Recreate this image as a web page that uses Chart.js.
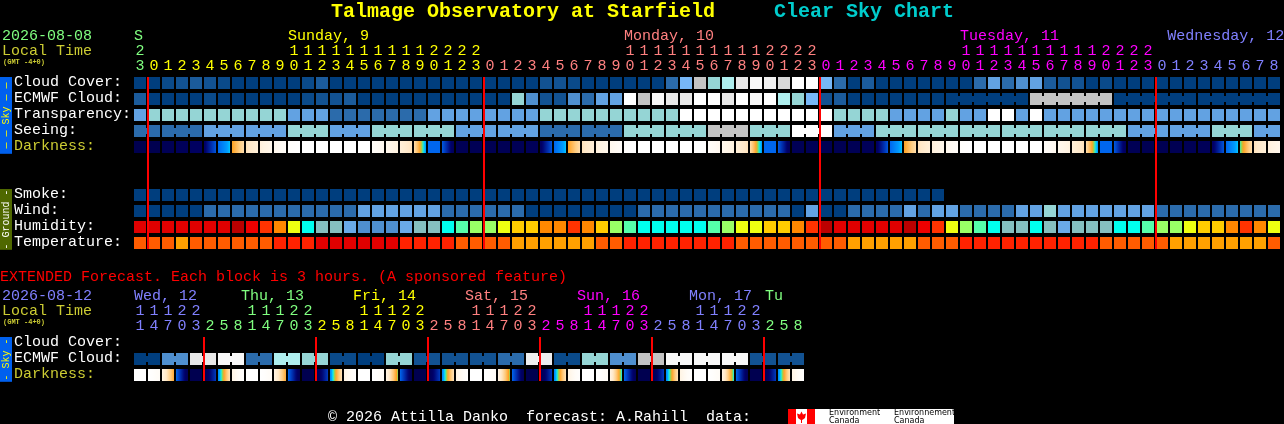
<!DOCTYPE html>
<html>
<head>
<meta charset="utf-8">
<title>Talmage Observatory at Starfield Clear Sky Chart</title>
<style>
    html, body { margin: 0; background: #000; overflow: hidden; }
    canvas { position: absolute; left: 0; }
    #sky { top: 0; }
    #extended { top: 260px; }
</style>
<script src="https://cdn.jsdelivr.net/npm/chart.js@4"></script>
</head>
<body>
<canvas id="sky" width="1284" height="300"></canvas>
<canvas id="extended" width="1284" height="164"></canvas>
<script>
// hourly forecast, one entry per column
const hours = [23,
    0,1,2,3,4,5,6,7,8,9,10,11,12,13,14,15,16,17,18,19,20,21,22,23,
    0,1,2,3,4,5,6,7,8,9,10,11,12,13,14,15,16,17,18,19,20,21,22,23,
    0,1,2,3,4,5,6,7,8,9,10,11,12,13,14,15,16,17,18,19,20,21,22,23,
    0,1,2,3,4,5,6,7,8];
const cloudCover = [
    0,0,5,10,15,10,5,0,0,0,
    0,0,5,15,0,0,0,0,0,0,
    0,0,0,0,0,0,0,0,0,10,
    10,5,0,0,0,0,0,0,20,45,
    70,50,60,80,95,90,75,100,100,45,
    20,0,15,0,0,0,0,0,0,0,
    20,40,20,30,40,15,10,10,0,5,
    0,0,0,0,0,0,0,0,0,0,0,0];
const ecmwfCloud = [
    15,0,0,0,0,5,0,0,0,0,
    0,0,5,10,10,15,0,0,0,0,
    0,0,0,0,0,0,0,50,30,10,
    10,30,20,40,40,100,70,95,80,80,
    100,100,80,100,95,100,60,50,45,10,
    15,0,0,0,0,0,0,0,0,0,
    0,0,0,0,70,70,70,70,70,70,
    0,0,0,0,0,0,0,0,0,0,0,0];
const transparency = [
    2,3,3,3,3,3,3,3,3,3,
    3,2,2,2,1,1,1,1,1,1,
    1,2,2,2,2,2,2,2,2,3,
    3,3,3,3,3,3,3,3,3,5,
    5,5,5,5,5,5,5,5,5,5,
    3,3,3,3,2,2,2,2,3,2,
    2,5,5,2,5,2,2,2,2,2,
    2,2,2,2,2,2,2,2,2,2,2,2];
const seeing = [
    1,1,1,1,1,2,2,2,2,2,
    2,3,3,3,2,2,2,3,3,3,
    3,3,3,2,2,2,2,2,2,1,
    1,1,1,1,1,3,3,3,3,3,
    3,4,4,4,3,3,3,5,5,5,
    2,2,2,3,3,3,3,3,3,3,
    3,3,3,3,3,3,3,3,3,3,
    3,2,2,2,2,2,2,3,3,3,2,2];
const darkFrom = [
    0,0,.02,.04,.06,.08,.30,.50,.68,.77,
    .85,.96,1,1,1,1,1,.92,.85,.76,
    .66,.30,.28,.02,.02,.01,.02,.02,.03,.06,
    .30,.50,.68,.77,.85,.96,1,1,1,1,
    1,.93,.85,.76,.66,.30,.28,.02,.02,.01,
    .01,.02,.03,.06,.30,.50,.68,.77,.85,.96,
    1,1,1,1,1,.93,.85,.76,.66,.30,
    .28,.02,.01,.01,.01,.02,.03,.06,.30,.44,.68,.77];
const darkTo = [
    0,0,.02,.04,.06,.27,.40,.66,.76,.84,
    .92,1,1,1,1,1,1,.86,.78,.68,
    .36,.30,.04,.02,.02,.01,.02,.02,.03,.27,
    .40,.66,.76,.84,.92,1,1,1,1,1,
    1,.86,.78,.68,.36,.30,.04,.02,.02,.01,
    .01,.02,.03,.27,.40,.66,.76,.84,.92,1,
    1,1,1,1,1,.86,.78,.68,.36,.30,
    .04,.02,.01,.01,.01,.02,.03,.27,.40,.66,.76,.84];
const smoke = [
    0,0,0,0,0,0,0,0,0,0,0,0,0,0,0,0,0,0,0,0,
    0,0,0,0,0,0,0,0,0,0,0,0,0,0,0,0,0,0,0,0,
    0,0,0,0,0,0,0,0,0,0,0,0,0,0,0,0,0,0];
const wind = [
    0,0,0,0,0,1,1,1,1,1,
    1,1,1,1,1,1,2,2,2,2,
    2,2,1,1,1,1,1,1,0,0,
    0,0,0,0,0,0,1,1,1,1,
    1,1,1,1,1,1,1,0,2,0,
    0,1,1,1,1,2,1,2,2,1,
    1,1,1,2,2,3,2,2,2,2,
    2,2,2,1,1,1,1,1,1,1,1,1];
const humidity = [
    85,85,85,85,85,85,85,95,80,75,
    70,60,45,40,40,35,30,30,30,35,
    40,40,45,50,55,55,60,65,65,70,
    70,75,70,65,55,50,45,45,45,45,
    45,50,55,60,60,65,65,70,75,95,
    85,85,85,85,85,95,80,75,60,55,
    50,45,40,40,45,40,35,40,40,40,
    45,45,50,55,55,60,65,65,70,75,70,60];
const temperature = [
    25,25,25,22,25,25,25,25,25,25,
    28,28,28,31,31,31,31,31,31,28,
    28,28,28,25,25,25,25,22,22,22,
    22,22,22,25,25,28,28,28,28,28,
    28,28,28,25,25,25,25,25,25,25,
    25,22,22,22,22,22,25,25,25,28,
    28,28,28,28,28,28,28,28,28,25,
    25,25,25,25,22,22,22,22,22,22,22,25];
// how many columns each joined block covers
const seeingBlocks = [2,3,3,3,3,3,3,3,3,3,3,3,3,3,3,3,3,3,3,3,3,3,3,3,3,3,3,2];
const ecmwfBlocks = [1,1,1,1,1,1,1,1,1,1,1,1,1,1,1,1,1,1,1,1,1,1,1,1,1,1,1,1,1,
    1,1,1,1,1,1,1,1,1,1,1,1,1,1,1,1,1,1,1,1,1,1,1,1,1,1,1,1,1,6,6,6,6];

// extended forecast, 3 hour blocks
const extHours = [11,14,17,20,23,
    2,5,8,11,14,17,20,23,
    2,5,8,11,14,17,20,23,
    2,5,8,11,14,17,20,23,
    2,5,8,11,14,17,20,23,
    2,5,8,11,14,17,20,23,
    2,5,8];
const extEcmwf = [0,30,80,95,20,60,50,5,0,50,10,10,10,20,85,5,50,30,70,95,95,95,10,10];
const extDarkFrom = [
    1,1,.80,.30,0,0,.34,.80,
    1,1,.80,.30,0,0,.34,.80,
    1,1,.80,.30,0,0,.34,.80,
    1,1,.80,.30,0,0,.34,.80,
    1,1,.80,.30,0,0,.34,.80,
    1,1,.80,.30,0,0,.34,.80];
const extDarkTo = [
    1,.90,.52,.02,0,.22,.68,.98,
    1,.90,.52,.02,0,.22,.68,.98,
    1,.90,.46,.02,0,.22,.68,.98,
    1,.90,.46,.02,0,.22,.68,.98,
    1,.90,.42,.02,0,.22,.68,.98,
    1,.90,.42,.02,0,.22,.68,.98];

const midnights = [1,25,49,73];
const extMidnights = [5,13,21,29,37,45];
const dayNames = ["S","Sunday, 9","Monday, 10","Tuesday, 11","Wednesday, 12"];
const dayCols = [0,11,35,59,73.8];
const extDayNames = ["Wed, 12","Thu, 13","Fri, 14","Sat, 15","Sun, 16","Mon, 17","Tu"];
const extDayCols = [0,7.64,15.64,23.64,31.64,39.64,45.07];

const GREEN = "#80ff80", YELLOW = "#ffff00", SALMON = "#ff8080", MAGENTA = "#ff00ff", PERI = "#8080ff";
const OLIVE_TEXT = "#cccc33";
const dayColors = [GREEN, YELLOW, SALMON, MAGENTA, PERI];
const extDayColors = [PERI, GREEN, YELLOW, SALMON, MAGENTA, PERI, GREEN];

const cloudColors = {0:"#003e7e",5:"#0a4a8a",10:"#125292",15:"#1b5b9b",20:"#2b6bab",30:"#4f8fcf",40:"#62a2e2",45:"#77b7f7",
    50:"#95d5d5",60:"#aeeeee",70:"#c3c3c3",75:"#d8d8d8",80:"#e8e8e8",85:"#eeeeee",90:"#f0f0f0",95:"#f8f8f8",100:"#ffffff"};
const ratingColors = ["#003e7e","#2b6bab","#62a2e2","#95d5d5","#c3c3c3","#ffffff"];
const humidityColors = {30:"#4f8fcf",35:"#6aaae8",40:"#85bfbf",45:"#00ffee",50:"#55ffaa",55:"#99ff66",60:"#eeff11",
    65:"#ffcc00",70:"#ff8800",75:"#ff3300",80:"#ee0000",85:"#e00000",95:"#bb0000"};
const tempColors = {22:"#ffa000",25:"#ff5c00",28:"#ff2200",31:"#e00000"};
const darkScale = [[0,[0,0,80]],[.1,[0,0,106]],[.2,[0,48,176]],[.3,[0,102,238]],[.38,[0,160,255]],[.42,[0,240,255]],[.46,[128,224,96]],
    [.5,[255,160,32]],[.6,[255,204,128]],[.7,[255,232,200]],[.8,[255,244,228]],[.9,[255,251,246]],[1,[255,255,255]]];

const MONO = "'Liberation Mono', monospace";

function darkColor(v) {
    let i = 1;
    while (i < darkScale.length - 1 && v > darkScale[i][0]) i++;
    const [a, ca] = darkScale[i - 1], [b, cb] = darkScale[i];
    const t = Math.max(0, Math.min(1, (v - a) / (b - a)));
    return "rgb(" + ca.map((c, k) => Math.round(c + (cb[k] - c) * t)).join(",") + ")";
}

// darkness cells fade from left to right
function darkPaint(from, to) {
    return (i, chart) => {
        const mid = chart.scales.x.getPixelForValue(i);
        // scale has no size yet on the very first pass
        if (!Number.isFinite(mid)) return "#000";
        const g = chart.ctx.createLinearGradient(mid - 6, 0, mid + 6, 0);
        for (let s = 0; s <= 8; s++) g.addColorStop(s / 8, darkColor(from[i] + (to[i] - from[i]) * s / 8));
        return g;
    };
}

function runsOf(blocks) {
    let first = 0;
    return blocks.map((n) => { const r = [first, first + n - 1]; first += n; return r; });
}

function gridChart(id, cols, rows, cfg) {
    const rowSpan = 0.75;
    const extras = {
        id: "extras",
        afterDatasetsDraw(chart) {
            const { ctx, scales: { x, y } } = chart;
            ctx.save();
            // little bridges between the cells of one block
            rows.forEach((r) => {
                (r.runs || []).forEach(([a, b]) => {
                    for (let c = a; c < b; c++) {
                        ctx.fillStyle = r.paint(c, chart);
                        ctx.fillRect(x.getPixelForValue(c) + 6, y.getPixelForValue(r.at) + 3, 2, 6);
                    }
                });
            });
            // midnight lines
            ctx.fillStyle = "#ff0000";
            const top = y.getPixelForValue(0), bottom = y.getPixelForValue(cfg.lastRow + rowSpan);
            cfg.lines.forEach((c) => ctx.fillRect(x.getPixelForValue(c) - 7, top, 2, bottom - top));
            // side strips
            cfg.strips.forEach((s) => {
                const a = y.getPixelForValue(s.from), b = y.getPixelForValue(s.to);
                ctx.fillStyle = s.fill;
                ctx.fillRect(0, a, 12, b - a);
                ctx.save();
                ctx.translate(6, (a + b) / 2);
                ctx.rotate(-Math.PI / 2);
                ctx.font = "10px " + MONO;
                ctx.textAlign = "center";
                ctx.textBaseline = "middle";
                ctx.fillStyle = s.color;
                ctx.fillText(s.text, 0, 0);
                ctx.restore();
            });
            // day names above the hours
            ctx.font = "15px " + MONO;
            ctx.textBaseline = "middle";
            cfg.days.forEach((name, i) => {
                ctx.fillStyle = cfg.dayColors[i];
                ctx.fillText(name, x.getPixelForValue(cfg.dayCols[i]) - 6, 36);
            });
            cfg.texts.forEach((t) => {
                ctx.font = t.font || "15px " + MONO;
                ctx.fillStyle = t.color;
                ctx.fillText(t.text, t.x, t.y);
            });
            if (cfg.footer) cfg.footer(ctx);
            ctx.restore();
        },
    };

    return new Chart(document.getElementById(id), {
        type: "bar",
        data: {
            labels: cols.hours.map(String),
            datasets: rows.map((r) => ({
                label: r.name,
                data: r.values.map(() => [r.at, r.at + rowSpan]),
                backgroundColor: (ctx) => r.paint(ctx.dataIndex, ctx.chart),
                barThickness: 12,
                grouped: false,
                inflateAmount: 0,
                borderWidth: 0,
            })),
        },
        options: {
            responsive: false,
            animation: false,
            events: [],
            layout: { padding: { left: 14, right: cfg.right, bottom: cfg.bottom, top: 0 } },
            plugins: { legend: { display: false }, tooltip: { enabled: false } },
            scales: {
                x: {
                    type: "category",
                    position: "top",
                    afterFit: (s) => { s.height = 77; },
                    grid: { display: false, drawTicks: false },
                    border: { display: false },
                    ticks: {
                        autoSkip: false,
                        maxRotation: 0,
                        minRotation: 0,
                        padding: 3,
                        font: { family: MONO, size: 15, lineHeight: 1 },
                        color: (ctx) => cols.colors[ctx.index],
                        callback: (v, i) => {
                            const h = cols.hours[i];
                            return [h >= 10 ? String(Math.floor(h / 10)) : "", String(h % 10)];
                        },
                    },
                },
                y: {
                    type: "linear",
                    reverse: true,
                    min: 0,
                    max: cfg.rowCount,
                    afterFit: (s) => { s.width = 119; },
                    afterBuildTicks: (s) => { s.ticks = rows.map((r) => ({ value: r.at + 0.3 })); },
                    grid: { display: false, drawTicks: false },
                    border: { display: false },
                    ticks: {
                        autoSkip: false,
                        crossAlign: "far",
                        padding: 0,
                        font: { family: MONO, size: 15 },
                        color: (ctx) => rows[ctx.index].text,
                        callback: (v, i) => rows[i].name,
                    },
                },
            },
        },
        plugins: [extras],
    });
}

const hourColors = hours.map((h, i) => dayColors[i === 0 ? 0 : Math.floor((i - 1) / 24) + 1]);

// rowCount leaves spare rows at the bottom so the last label does not squeeze the plot
gridChart("sky", { hours, colors: hourColors }, [
    { name: "Cloud Cover:", at: 0, text: "#fff", values: cloudCover, paint: (i) => cloudColors[cloudCover[i]] },
    { name: "ECMWF Cloud:", at: 1, text: "#fff", values: ecmwfCloud, paint: (i) => cloudColors[ecmwfCloud[i]], runs: runsOf(ecmwfBlocks) },
    { name: "Transparency:", at: 2, text: "#fff", values: transparency, paint: (i) => ratingColors[transparency[i]] },
    { name: "Seeing:", at: 3, text: "#fff", values: seeing, paint: (i) => ratingColors[seeing[i]], runs: runsOf(seeingBlocks) },
    { name: "Darkness:", at: 4, text: OLIVE_TEXT, values: darkFrom, paint: darkPaint(darkFrom, darkTo) },
    { name: "Smoke:", at: 7, text: "#fff", values: smoke, paint: (i) => ratingColors[smoke[i]] },
    { name: "Wind:", at: 8, text: "#fff", values: wind, paint: (i) => ratingColors[wind[i]] },
    { name: "Humidity:", at: 9, text: "#fff", values: humidity, paint: (i) => humidityColors[humidity[i]] },
    { name: "Temperature:", at: 10, text: "#fff", values: temperature, paint: (i) => tempColors[temperature[i]] },
], {
    right: 3, bottom: 15, rowCount: 13, lastRow: 10,
    lines: midnights, days: dayNames, dayColors, dayCols,
    strips: [
        { from: 0, to: 4.8, fill: "#0060ee", color: "#ffff00", text: " \u2014 \u2014 Sky \u2014 \u2014 " },
        { from: 7, to: 10.8, fill: "#4f6800", color: "#ffffff", text: "- Ground -" },
    ],
    texts: [
        { text: "Talmage Observatory at Starfield", x: 331, y: 12, color: "#ffff00", font: "bold 20px " + MONO },
        { text: "Clear Sky Chart", x: 774, y: 12, color: "#00cccc", font: "bold 20px " + MONO },
        { text: "2026-08-08", x: 2, y: 36, color: GREEN },
        { text: "Local Time", x: 2, y: 51, color: OLIVE_TEXT },
        { text: "(GMT -4+0)", x: 3, y: 62, color: OLIVE_TEXT, font: "bold 7px " + MONO },
    ],
});

const extColors = extHours.map((h, i) => i < 5 ? PERI : extDayColors[Math.floor((i - 5) / 8) + 1]);
const extCols = extEcmwf.flatMap((v) => [v, v]);
const extRuns = extEcmwf.map(() => 2);

function drawFooter(ctx) {
    ctx.fillStyle = "#fff";
    ctx.fillRect(788, 149, 166, 15);
    ctx.fillStyle = "#ff0000";
    ctx.fillRect(788, 149, 8, 15);
    ctx.fillRect(807, 149, 8, 15);
    // maple leaf
    ctx.beginPath();
    [[801.5,151.5],[803,154.5],[806,153.5],[805,158],[803,159.5],[802,160],[802,163],[801,163],[801,160],[800,159.5],[798,158],[797,153.5],[800,154.5]]
        .forEach(([px, py], i) => (i ? ctx.lineTo(px, py) : ctx.moveTo(px, py)));
    ctx.closePath();
    ctx.fill();
    ctx.fillStyle = "#000";
    ctx.font = "8px 'DejaVu Sans'";
    ctx.fillText("Environment", 829, 153);
    ctx.fillText("Canada", 829, 160.5);
    ctx.fillText("Environnement", 894, 153);
    ctx.fillText("Canada", 894, 160.5);
}

gridChart("extended", { hours: extHours, colors: extColors }, [
    { name: "Cloud Cover:", at: 0, text: "#fff", values: [], paint: () => "#000" },
    { name: "ECMWF Cloud:", at: 1, text: "#fff", values: extCols, paint: (i) => cloudColors[extCols[i]], runs: runsOf(extRuns) },
    { name: "Darkness:", at: 2, text: OLIVE_TEXT, values: extDarkFrom, paint: darkPaint(extDarkFrom, extDarkTo) },
], {
    right: 479, bottom: 39, rowCount: 3, lastRow: 2,
    lines: extMidnights, days: extDayNames, dayColors: extDayColors, dayCols: extDayCols,
    strips: [{ from: 0, to: 2.8, fill: "#0060ee", color: "#ffff00", text: "- Sky -" }],
    texts: [
        { text: "EXTENDED Forecast. Each block is 3 hours. (A sponsored feature)", x: 0, y: 17, color: "#ff0000" },
        { text: "2026-08-12", x: 2, y: 36, color: PERI },
        { text: "Local Time", x: 2, y: 51, color: OLIVE_TEXT },
        { text: "(GMT -4+0)", x: 3, y: 62, color: OLIVE_TEXT, font: "bold 7px " + MONO },
        { text: "\u00a9 2026 Attilla Danko  forecast: A.Rahill  data:", x: 328, y: 157, color: "#ffffff" },
    ],
    footer: drawFooter,
});
</script>
</body>
</html>
